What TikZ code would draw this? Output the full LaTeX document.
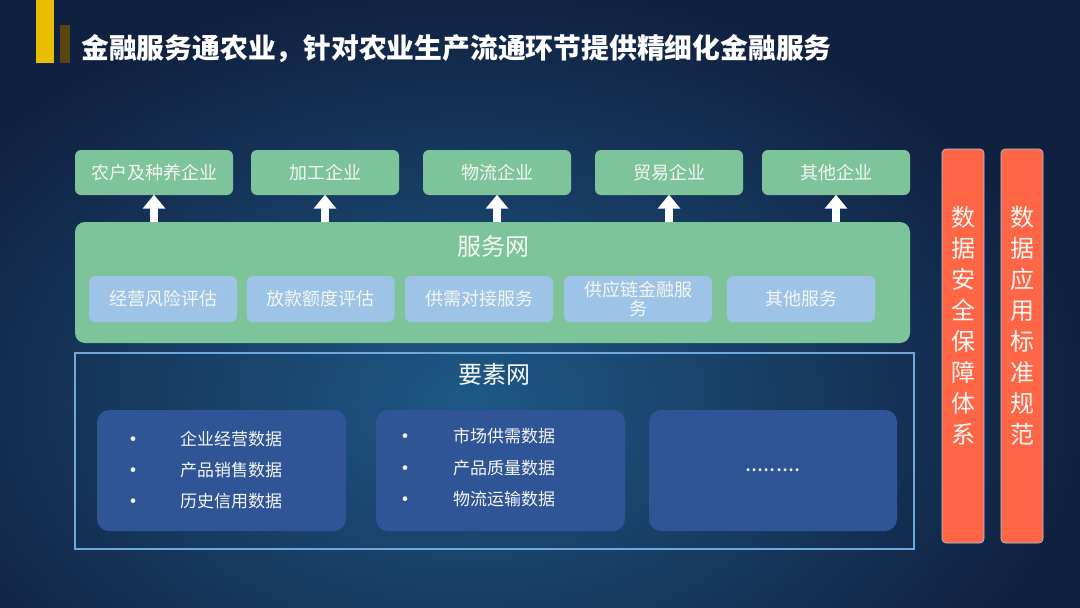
\documentclass[tikz,border=0pt]{standalone}
\usepackage{fontspec}
\setmainfont{Noto Sans CJK SC}
\usetikzlibrary{arrows.meta}
\definecolor{bgdark}{HTML}{10203F}
\definecolor{bglight}{HTML}{1E5886}
\definecolor{ygold}{HTML}{E8BE00}
\definecolor{ybrown}{HTML}{5A4512}
\definecolor{grn}{HTML}{7DC49A}
\definecolor{lblue}{HTML}{9DC3E6}
\definecolor{dblue}{HTML}{2F5597}
\definecolor{edge}{HTML}{6FA8DC}
\definecolor{orng}{HTML}{FF6645}
\definecolor{txt}{HTML}{F4F6F4}
\tikzset{
  topbox/.style={fill=grn, rounded corners=6, minimum height=45, inner sep=0, text=txt, font=\fontsize{18}{20}\selectfont},
  svcbox/.style={fill=lblue, rounded corners=6, minimum height=46, minimum width=148, inner sep=0, text=txt, font=\fontsize{18}{20}\selectfont, align=center},
  databox/.style={fill=dblue, rounded corners=12, minimum height=121, minimum width=249, inner sep=0},
  bul/.style={text=txt, font=\fontsize{22}{24}\selectfont, inner sep=0, yshift=-3.5pt},
  dtxt/.style={text=txt, font=\fontsize{17}{19}\selectfont, inner sep=0, anchor=west},
  sidebox/.style={fill=orng, draw=edge!60!white, line width=0.6, rounded corners=4, minimum width=42, minimum height=394, inner sep=0},
  sidetxt/.style={text=txt, font=\fontsize{24}{31}\selectfont, align=center, inner sep=0},
  uparrow/.style={draw=white, line width=8, -{Triangle[width=22pt,length=14pt]}, shorten >=-0.5pt}
}
\begin{document}
\begin{tikzpicture}[x=1pt,y=-1pt]
\useasboundingbox (0,0) rectangle (1080,608);
\fill[bgdark] (0,0) rectangle (1080,608);
\shade[inner color=bglight, outer color=bgdark] (470,400) ellipse (620 and 420);
% title decoration
\fill[ygold] (36,0) rectangle (54,63);
\fill[ybrown] (60,25) rectangle (70,63);
\node[anchor=west, text=white, inner sep=0, font=\fontsize{27.8}{30}\selectfont\bfseries] (title) at (81,49) {金融服务通农业，针对农业生产流通环节提供精细化金融服务};
% top boxes
\node[topbox, minimum width=158] (t1) at (154,172.5) {农户及种养企业};
\node[topbox, minimum width=148] (t2) at (325,172.5) {加工企业};
\node[topbox, minimum width=148] (t3) at (497,172.5) {物流企业};
\node[topbox, minimum width=148] (t4) at (669,172.5) {贸易企业};
\node[topbox, minimum width=148] (t5) at (836,172.5) {其他企业};
% service network
\node[fill=grn, rounded corners=10, minimum width=835, minimum height=121, inner sep=0] (svc) at (492.5,282.5) {};
\node[text=txt, inner sep=0, font=\fontsize{24}{26}\selectfont] (svct) at (493,246) {服务网};
\node[svcbox] (s1) at (163,299) {经营风险评估};
\node[svcbox] (s2) at (320.5,299) {放款额度评估};
\node[svcbox] (s3) at (479,299) {供需对接服务};
\node[svcbox, font=\fontsize{18}{19}\selectfont] (s4) at (638,299) {供应链金融服\\务};
\node[svcbox] (s5) at (801,299) {其他服务};
% arrows
\foreach \t in {t1,t2,t3,t4,t5}{
  \draw[uparrow] (\t.south |- svc.north) -- (\t.south);
}
% element network
\node[draw=edge, line width=1.3, minimum width=839, minimum height=196, inner sep=0] (elem) at (494.5,451) {};
\node[text=txt, inner sep=0, font=\fontsize{24}{26}\selectfont] (elemt) at (494,374) {要素网};
\node[databox] (d1) at (221.5,470.5) {};
\node[databox] (d2) at (500.5,470.5) {};
\node[databox, minimum width=248] (d3) at (773,470.5) {};
\node[bul] (b11) at (133,439) {•};
\node[bul] (b12) at (133,470) {•};
\node[bul] (b13) at (133,501) {•};
\node[dtxt] (x11) at (180,439) {企业经营数据};
\node[dtxt] (x12) at (180,470) {产品销售数据};
\node[dtxt] (x13) at (180,501) {历史信用数据};
\node[bul] (b21) at (405,436) {•};
\node[bul] (b22) at (405,468) {•};
\node[bul] (b23) at (405,499) {•};
\node[dtxt] (x21) at (453,436) {市场供需数据};
\node[dtxt] (x22) at (453,468) {产品质量数据};
\node[dtxt] (x23) at (453,499) {物流运输数据};
\node[text=txt, inner sep=0, font=\fontsize{22}{24}\selectfont] (dots) at (d3.center) {.........};
% side boxes
\node[sidebox] (r1) at (963,346) {};
\node[sidebox] (r2) at (1022,346) {};
\node[sidetxt] (r1t) at (963,326) {数\\据\\安\\全\\保\\障\\体\\系};
\node[sidetxt] (r2t) at (1022,326) {数\\据\\应\\用\\标\\准\\规\\范};
\end{tikzpicture}
\end{document}
